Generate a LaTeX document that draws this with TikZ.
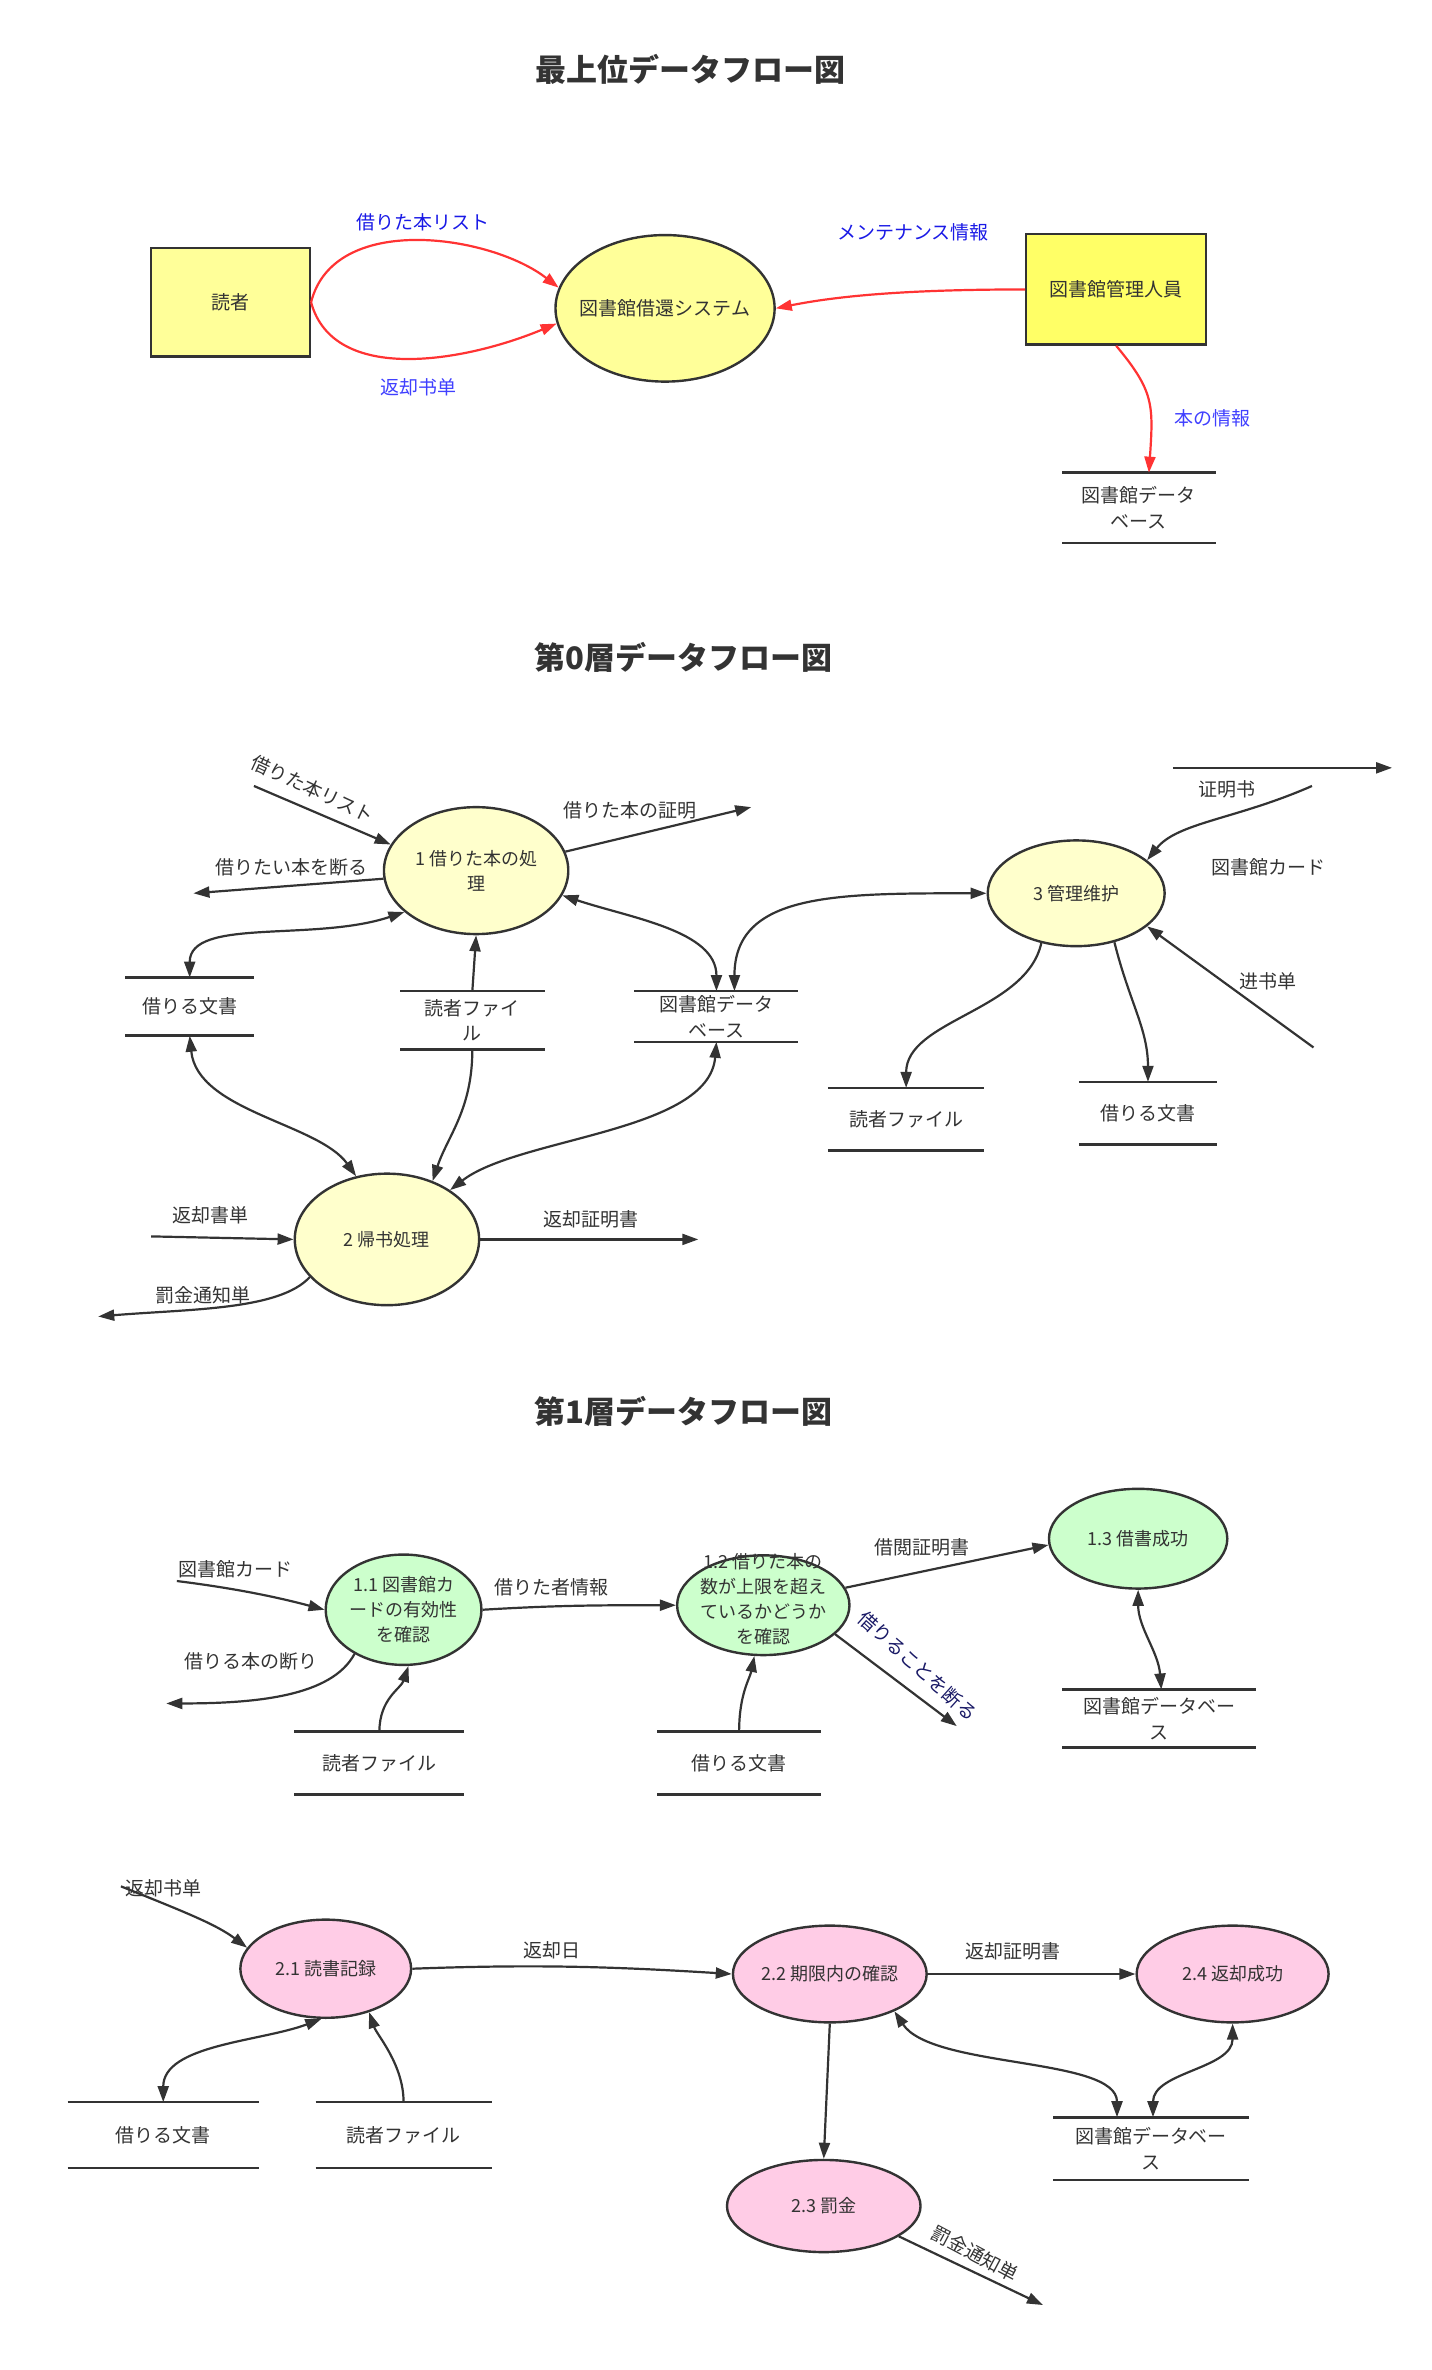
\documentclass[tikz,border=0pt]{standalone}
\usepackage{fontspec}
\setmainfont{Noto Sans CJK JP}
\usetikzlibrary{arrows.meta, shapes.geometric}
\definecolor{dfdline}{HTML}{333333}
\definecolor{dfdtext}{HTML}{333333}
\definecolor{entfill}{HTML}{FFFF99}
\definecolor{admfill}{HTML}{FFFF66}
\definecolor{procfill}{HTML}{FFFFCC}
\definecolor{greenfill}{HTML}{CCFFCC}
\definecolor{pinkfill}{HTML}{FFCCE6}
\definecolor{redline}{HTML}{FF3333}
\definecolor{lblblue}{HTML}{1A1AE6}
\definecolor{lblblue2}{HTML}{4040FF}
\definecolor{lblnavy}{HTML}{1A1A66}
% text that may spill over its ellipse
\newcommand{\flatlines}[1]{\smash{\makebox[0pt]{\begin{tabular}{@{}c@{}}#1\end{tabular}}}}
\tikzset{
  ttl/.style       = {font=\fontsize{15.5}{18}\selectfont\bfseries, text=dfdtext},
  dfdent/.style    = {draw=dfdline, fill=entfill, line width=1.2pt, inner sep=0pt,
                      font=\fontsize{9.5}{12}\selectfont, text=dfdtext},
  dfdproc/.style   = {ellipse, draw=dfdline, fill=procfill, line width=1.2pt, inner sep=0pt,
                      align=center, font=\fontsize{9}{12.5}\selectfont, text=dfdtext},
  storeline/.style = {draw=dfdline, line width=1.3pt},
  dfdstore/.style  = {inner sep=0pt, align=center, font=\fontsize{9.5}{12.8}\selectfont, text=dfdtext,
                      append after command={(\tikzlastnode.north west) edge[storeline] (\tikzlastnode.north east)
                                            (\tikzlastnode.south west) edge[storeline] (\tikzlastnode.south east)}},
  flow/.style      = {-{Triangle[length=8pt, width=5.5pt]}, line width=1.1pt, draw=dfdline},
  dflow/.style     = {{Triangle[length=8pt, width=5.5pt]}-{Triangle[length=8pt, width=5.5pt]},
                      line width=1.1pt, draw=dfdline},
  redflow/.style   = {flow, draw=redline},
  lbl/.style       = {font=\fontsize{9.5}{11}\selectfont, text=dfdtext, inner sep=1pt},
}
\begin{document}
\begin{tikzpicture}[x=0.756pt, y=-0.756pt]
  \useasboundingbox (0,0) rectangle (947,1568);

  % --- top level
  \node[ttl] (ttop) at (457,46) {最上位データフロー図};
  \node[dfdent, minimum width=79.4pt, minimum height=54.4pt] (reader) at (152.5,200) {読者};
  \node[dfdproc, fill=entfill, minimum width=109.6pt, minimum height=73.3pt,
        font=\fontsize{9.5}{12}\selectfont] (libsys) at (440,204) {\makebox[0pt]{図書館借還システム}};
  \node[dfdent, fill=admfill, minimum width=90pt, minimum height=55.2pt] (libadmin) at (738.5,191.5) {図書館管理人員};
  \node[dfdstore, minimum width=76.4pt, minimum height=34.8pt] (db0) at (753.5,336) {図書館データ\\ベース};

  \draw[redflow] (reader.east) .. controls +(15,-60) and +(-45,-35) .. (libsys.169);
  \draw[redflow] (reader.east) .. controls +(15,55) and +(-60,25) .. (libsys.188);
  \draw[redflow] (libadmin.west) .. controls +(-80,0) and +(40,-8) .. (libsys.east);
  \draw[redflow] (libadmin.south) .. controls +(25,30) and +(3,-45) .. ([xshift=5pt]db0.north);

  \node[lbl, text=lblblue]  (lborrow) at (280,147) {借りた本リスト};
  \node[lbl, text=lblblue2] (lreturn) at (277,256) {返却书单};
  \node[lbl, text=lblblue]  (lmaint)  at (604,154) {メンテナンス情報};
  \node[lbl, text=lblblue2] (lbook)   at (802,277) {本の情報};

  % --- level 0
  \node[ttl] (tzero) at (452,435) {第0層データフロー図};
  \node[dfdproc, minimum width=92.2pt, minimum height=63.5pt] (p1) at (315,576) {1 借りた本の処\\理};
  \node[dfdproc, minimum width=92.2pt, minimum height=65.8pt] (p2) at (256,820) {2 帰书処理};
  \node[dfdproc, minimum width=88.5pt, minimum height=52.9pt] (p3) at (712,591) {3 管理维护};

  \node[dfdstore, minimum width=64.3pt, minimum height=28.7pt] (zdoc)  at (125.5,666)   {借りる文書};
  \node[dfdstore, minimum width=71.8pt, minimum height=28.7pt] (zfile) at (312.5,675)   {読者ファイ\\ル};
  \node[dfdstore, minimum width=81.6pt, minimum height=25pt]   (zdb)   at (474,672.5)   {図書館データ\\ベース};
  \node[dfdstore, minimum width=77.9pt, minimum height=31pt]   (zfile2) at (599.5,740.5) {読者ファイル};
  \node[dfdstore, minimum width=68.8pt, minimum height=31pt]   (zdoc2) at (759.5,736.5) {借りる文書};

  \coordinate (zin1)   at (168,520);
  \coordinate (zout1)  at (128,591);
  \coordinate (zout2)  at (497,534);
  \coordinate (zcerta) at (776,508);
  \coordinate (zcertb) at (921,508);
  \coordinate (zcard)  at (868,520);
  \coordinate (zorder) at (869,693);
  \coordinate (zin2)   at (100,818);
  \coordinate (zout3)  at (65,871);
  \coordinate (zout4)  at (462,820);

  \draw[flow] (zin1) -- (p1.163);
  \draw[flow] (p1.185) -- (zout1);
  \draw[flow] (p1.12) -- (zout2);
  \draw[dflow] (zdoc.north) .. controls +(0,-40) and +(-60,20) .. (p1.210);
  \draw[flow] (zfile.north) -- (p1.south);
  \draw[dflow] (p1.-16) .. controls +(45,15) and +(0,-40) .. (zdb.north);
  \draw[dflow] ([xshift=9pt]zdb.north) .. controls +(0,-65) and +(-100,0) .. (p3.west);
  \draw[flow] (zcerta) -- (zcertb);
  \draw[flow] (zcard) .. controls +(-50,22) and +(20,-25) .. (p3.25);
  \draw[flow] (zorder) -- (p3.-25);
  \draw[flow] (p3.-125) .. controls +(-10,45) and +(0,-45) .. (zfile2.north);
  \draw[flow] (p3.-52) .. controls +(10,40) and +(0,-35) .. (zdoc2.north);
  \draw[dflow] (zdoc.south) .. controls +(5,50) and +(-25,-35) .. (p2.116);
  \draw[flow] (zfile.south) .. controls +(0,40) and +(10,-30) .. (p2.52);
  \draw[dflow] (zdb.south) .. controls +(-5,60) and +(45,-35) .. (p2.38);
  \draw[flow] (zin2) -- (p2.west);
  \draw[flow] (p2.206) .. controls +(-20,22) and +(60,-5) .. (zout3);
  \draw[flow] (p2.east) -- (zout4);

  \node[lbl, rotate=-25] (zlborrow) at (207,522) {借りた本リスト};
  \node[lbl] (zlrefuse) at (193,574) {借りたい本を断る};
  \node[lbl] (zlproof)  at (417,536) {借りた本の証明};
  \node[lbl] (zlcert)   at (812,522) {证明书};
  \node[lbl] (zlcard)   at (839,574) {図書館カード};
  \node[lbl] (zlorder)  at (839,649) {进书单};
  \node[lbl] (zlreturn) at (139,804) {返却書単};
  \node[lbl] (zlfine)   at (134,857) {罰金通知単};
  \node[lbl] (zlrproof) at (391,807) {返却証明書};

  % --- level 1, borrowing
  \node[ttl] (tone) at (452,934) {第1層データフロー図};
  \node[dfdproc, fill=greenfill, minimum width=77.9pt, minimum height=55.2pt] (p11) at (267,1065) {1.1 図書館カ\\ードの有効性\\を確認};
  \node[dfdproc, fill=greenfill, minimum width=86.2pt, minimum height=49.9pt] (p12) at (505,1062)
        {\flatlines{1.2 借りた本の\\数が上限を超え\\ているかどうか\\を確認}};
  \node[dfdproc, fill=greenfill, minimum width=89.2pt, minimum height=49.9pt] (p13) at (753,1018) {1.3 借書成功};

  \node[dfdstore, minimum width=84.7pt, minimum height=31pt]   (afile) at (251,1166.5) {読者ファイル};
  \node[dfdstore, minimum width=81.6pt, minimum height=31pt]   (adoc)  at (489,1166.5) {借りる文書};
  \node[dfdstore, minimum width=96.8pt, minimum height=28.7pt] (adb)   at (767,1137)   {図書館データベー\\ス};

  \coordinate (acard)   at (117,1046);
  \coordinate (arefuse) at (110,1127);
  \coordinate (adeny)   at (633,1142);

  \draw[flow] (acard) .. controls +(40,5) and +(-30,-8) .. (p11.west);
  \draw[flow] (p11.222) .. controls +(-15,28) and +(60,0) .. (arefuse);
  \draw[flow] (p11.east) .. controls +(50,-3) and +(-50,0) .. (p12.west);
  \draw[flow] (afile.north) .. controls +(0,-22) and +(-5,15) .. (p11.-85);
  \draw[flow] (adoc.north) .. controls +(0,-25) and +(-3,15) .. (p12.-100);
  \draw[flow] (p12.12) -- (p13.184);
  \draw[flow] (p12.-22) -- (adeny);
  \draw[dflow] (p13.south) .. controls +(0,25) and +(-2,-25) .. ([xshift=1pt]adb.north);

  \node[lbl] (alcard)   at (156,1038) {図書館カード};
  \node[lbl] (alrefuse) at (166,1099) {借りる本の断り};
  \node[lbl] (alinfo)   at (365,1050) {借りた者情報};
  \node[lbl] (alcert)   at (610,1024) {借閲証明書};
  \node[lbl, rotate=-42, text=lblnavy] (aldeny) at (607,1102) {借りることを断る};

  % --- level 1, returning
  \node[dfdproc, fill=pinkfill, minimum width=85.4pt, minimum height=49.1pt] (p21) at (215.5,1302.5) {2.1 読書記録};
  \node[dfdproc, fill=pinkfill, minimum width=93.7pt, minimum height=48.4pt] (p22) at (549,1306) {2.2 期限内の確認};
  \node[dfdproc, fill=pinkfill, minimum width=96.8pt, minimum height=46.1pt] (p23) at (545,1459.5) {2.3 罰金};
  \node[dfdproc, fill=pinkfill, minimum width=96pt,   minimum height=48.4pt] (p24) at (815.5,1306) {2.4 返却成功};

  \node[dfdstore, minimum width=95.3pt, minimum height=32.5pt] (rdoc)  at (108,1412.5)   {借りる文書};
  \node[dfdstore, minimum width=87.7pt, minimum height=32.5pt] (rfile) at (267,1412.5)   {読者ファイル};
  \node[dfdstore, minimum width=97.5pt, minimum height=31pt]   (rdb)   at (761.5,1421.5) {図書館データベー\\ス};

  \coordinate (rin)   at (80,1248);
  \coordinate (rfine) at (690,1525);

  \draw[flow] (rin) .. controls +(45,18) and +(-20,-15) .. (p21.165);
  \draw[flow] (p21.east) .. controls +(80,-3) and +(-80,-5) .. (p22.west);
  \draw[dflow] (rdoc.north) .. controls +(0,-38) and +(-40,15) .. (p21.-95);
  \draw[flow] (rfile.north) .. controls +(0,-25) and +(5,15) .. (p21.-45);
  \draw[flow] (p22.east) -- (p24.west);
  \draw[dflow] (p22.-30) .. controls +(25,38) and +(0,-40) .. ([xshift=-17pt]rdb.north);
  \draw[dflow] (p24.south) .. controls +(0,30) and +(0,-30) .. ([xshift=1pt]rdb.north);
  \draw[flow] (p22.south) -- (p23.north);
  \draw[flow] (p23.-22) -- (rfine);

  \node[lbl] (rlin)   at (108,1249) {返却书单};
  \node[lbl] (rldate) at (365,1290) {返却日};
  \node[lbl] (rlcert) at (670,1291) {返却証明書};
  \node[lbl, rotate=-28] (rlfine) at (645,1491) {罰金通知単};
\end{tikzpicture}
\end{document}
